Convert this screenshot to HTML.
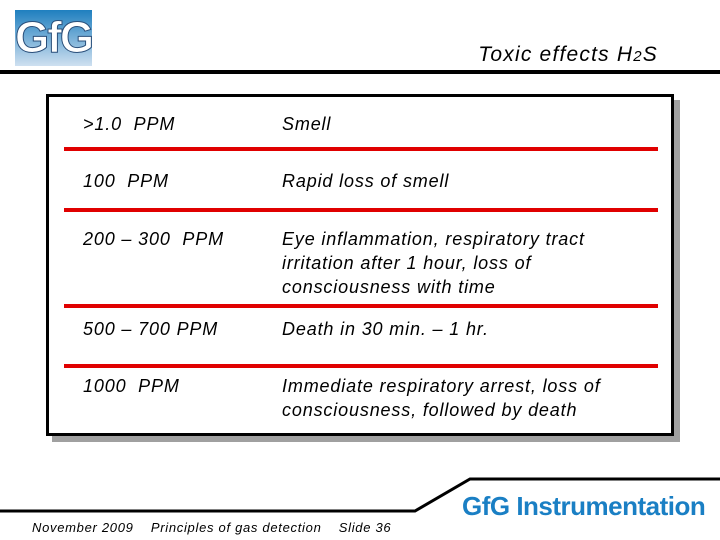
<!DOCTYPE html>
<html><head><style>
body{margin:0;width:720px;height:540px;background:#fff;position:relative;overflow:hidden;font-family:"Liberation Sans",sans-serif;}
.a{position:absolute;}
.t{position:absolute;font-style:italic;font-size:18px;line-height:24px;color:#000;letter-spacing:0.85px;white-space:nowrap;}
.red{position:absolute;left:64px;width:594px;height:4px;background:#e00000;}
</style></head><body>
<div class="a" style="left:15px;top:10px;width:77px;height:56px;background:linear-gradient(#1f7fbf,#cfe0f0);font:bold 44px 'Liberation Sans',sans-serif;color:#fff;text-align:center;line-height:56px;letter-spacing:-2px;-webkit-text-stroke:1px #2a4f7a;">GfG</div>
<div class="a" style="right:62px;top:43px;font-style:italic;font-size:21px;letter-spacing:1.2px;">Toxic effects H<span style="font-size:15px">2</span>S</div>
<div class="a" style="left:0;top:70px;width:720px;height:4px;background:#000"></div>
<div class="a" style="left:52px;top:100px;width:628px;height:342px;background:#a0a0a0"></div>
<div class="a" style="left:46px;top:94px;width:622px;height:336px;border:3px solid #000;background:#fff"></div>
<div class="red" style="top:147px"></div>
<div class="red" style="top:208px"></div>
<div class="red" style="top:304px"></div>
<div class="red" style="top:364px"></div>
<div class="t" style="left:83px;top:112px">&gt;1.0&nbsp; PPM</div>
<div class="t" style="left:282px;top:112px">Smell</div>
<div class="t" style="left:83px;top:169px">100&nbsp; PPM</div>
<div class="t" style="left:282px;top:169px">Rapid loss of smell</div>
<div class="t" style="left:83px;top:227px">200 – 300&nbsp; PPM</div>
<div class="t" style="left:282px;top:227px">Eye inflammation, respiratory tract<br>irritation after 1 hour, loss of<br>consciousness with time</div>
<div class="t" style="left:83px;top:317px">500 – 700 PPM</div>
<div class="t" style="left:282px;top:317px">Death in 30 min. – 1 hr.</div>
<div class="t" style="left:83px;top:374px">1000&nbsp; PPM</div>
<div class="t" style="left:282px;top:374px">Immediate respiratory arrest, loss of<br>consciousness, followed by death</div>
<svg class="a" style="left:0;top:0" width="720" height="540"><polyline points="0,511 415,511 470,479 720,479" fill="none" stroke="#000" stroke-width="3"/></svg>
<div class="a" style="left:462px;top:491px;font-weight:bold;font-size:26px;color:#1a7fc4;letter-spacing:-0.5px">GfG Instrumentation</div>
<div class="a" style="left:32px;top:520px;font-style:italic;font-size:13px;white-space:pre;letter-spacing:0.7px">November 2009    Principles of gas detection    Slide 36</div>
</body></html>
